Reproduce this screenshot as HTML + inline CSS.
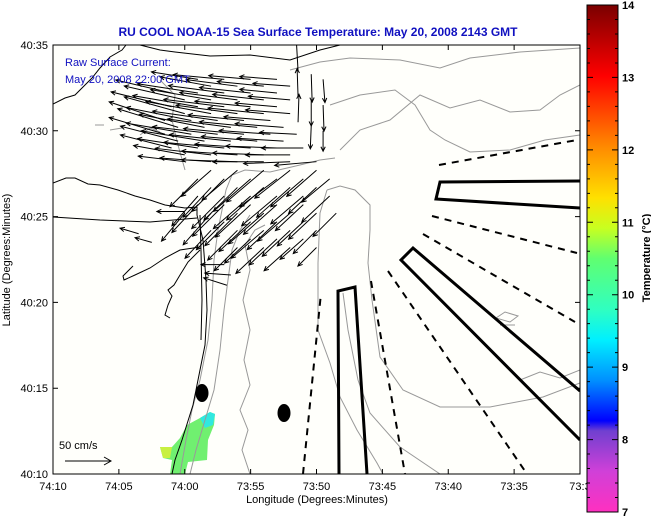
<!DOCTYPE html>
<html><head><meta charset="utf-8">
<style>
html,body{margin:0;padding:0;background:#fff;}
svg{display:block;font-family:"Liberation Sans",sans-serif;}
</style></head>
<body>
<svg id="chart" width="651" height="519" viewBox="0 0 651 519" xmlns="http://www.w3.org/2000/svg">
<defs>
<linearGradient id="cbar" x1="0" y1="0" x2="0" y2="1">
<stop offset="0" stop-color="#7a0000"/>
<stop offset="0.14" stop-color="#ff0000"/>
<stop offset="0.28" stop-color="#ff8a00"/>
<stop offset="0.38" stop-color="#ffe000"/>
<stop offset="0.44" stop-color="#c8ff20"/>
<stop offset="0.50" stop-color="#60ff70"/>
<stop offset="0.60" stop-color="#30ffc0"/>
<stop offset="0.66" stop-color="#00f0ff"/>
<stop offset="0.74" stop-color="#0090ff"/>
<stop offset="0.82" stop-color="#0000ff"/>
<stop offset="0.84" stop-color="#7040d0"/>
<stop offset="0.92" stop-color="#d040d8"/>
<stop offset="1" stop-color="#ff30c0"/>
</linearGradient>
<clipPath id="plotclip"><rect x="53" y="45" width="527" height="429"/></clipPath>
</defs>
<rect x="0" y="0" width="651" height="519" fill="#fff"/>
<text x="318" y="36" text-anchor="middle" font-size="12" font-weight="bold" fill="#1010c0">RU COOL  NOAA-15  Sea Surface Temperature:  May 20, 2008 2143 GMT</text>

<g clip-path="url(#plotclip)">
<rect x="53" y="45" width="527" height="429" fill="#fffffb"/>
<path d="M160,447 L172,447 L180,438 L187,425 L200,418 L210,412 L215,414 L214,425 L208,440 L207,460 L188,462 L185,474 L170,474 L172,460 L163,458 Z" fill="#70f070"/>
<path d="M200,418 L210,412 L215,414 L213,425 L205,428 Z" fill="#30e8e0"/>
<path d="M160,447 L172,447 L170,458 L163,458 Z" fill="#c8f040"/>
<g fill="none" stroke="#999" stroke-width="1">
<path d="M180,474 L186,440 L192,410 L200,380 L208,340 L212,300 L214,260 L218,230 L222,210 L226,190 L232,175 L245,170 L270,172 L300,165 L320,160 L335,158"/>
<path d="M190,474 L196,450 L205,420 L214,390 L220,350 L224,310 L228,280 L232,250 L240,230 L250,215"/>
<path d="M250,474 L242,450 L248,430 L240,410 L250,385 L244,360 L250,330 L243,300 L250,270 L245,245 L255,230 L265,225"/>
<path d="M327,190 L320,213 L318,263 L318,330 L330,363 L340,397 L357,430 L377,463 L383,474"/>
<path d="M327,190 L340,186 L355,190 L370,205 L370,230 L368,263 L372,300 L380,357 L403,390 L440,407 L490,407 L543,397 L580,383"/>
<path d="M343,293 L348,330 L358,380 L370,413 L400,447 L440,474"/>
<path d="M290,70 L320,62 L350,58 L400,60 L440,68 L470,58 L520,52 L580,48"/>
<path d="M330,105 L360,95 L395,90 L415,105 L430,130 L445,140 L470,152 L510,150 L545,140 L580,135"/>
<path d="M340,150 L360,130 L390,120 L420,95 L450,108 L480,100 L510,112 L540,110 L560,95 L580,85"/>
<path d="M160,80 L175,95 L172,120 L178,145 L185,170"/>
<path d="M140,135 L150,128 L160,132 M110,130 L122,128 M95,125 L104,125"/>
<path d="M496,318 L505,312 L518,316 L510,322 Z M500,325 L515,325"/>
<path d="M520,380 L540,372 L560,378 L580,370"/>
</g>
<g fill="none" stroke="#000" stroke-width="1">
<path d="M53,104 L65,98 L75,95 L82,88 L92,78 L100,68 L110,57 L122,50 L126,45"/>
<path d="M140,45 L160,50 L175,52 L210,56 L250,55 L290,60 L320,50 L340,45"/>
<path d="M53,183 L66,178 L75,178 L88,184 L100,185 L118,190 L135,196 L150,200 L165,205 L185,208 L197,207"/>
<path d="M53,217 L100,220 L150,222 L197,218"/>
<path d="M197,207 L197,215 L203,240 L206,280 L207,310 L205,345 L198,380 L193,405 L182,440 L175,460 L172,474"/>
<path d="M200,215 L201,250 L202,300 L201,340"/>
<path d="M200,247 L180,250 L165,258 L150,268 L135,275 L124,280 L123,276 L133,266"/>
<path d="M200,250 L188,262 L180,275 L174,285 L168,290 L172,296 L168,305 L165,315 L170,318"/>
</g>
<g fill="none" stroke="#000" stroke-width="3">
<path d="M580,181 L440,182 L436,199 L580,208"/>
<path d="M580,391 L413,248 L401,260 L580,440"/>
<path d="M339,474 L338,291 L355,287 L367,474"/>
</g>
<g fill="none" stroke="#000" stroke-width="2" stroke-dasharray="7,6">
<path d="M303,474 L321,293"/>
<path d="M371,281 L405,474"/>
<path d="M388,271 L527,474"/>
<path d="M423,234 L575,322"/>
<path d="M432,216 L577,253"/>
<path d="M439,165 L577,140"/>
</g>
<ellipse cx="202" cy="393" rx="6.5" ry="9" fill="#000"/>
<ellipse cx="284" cy="413" rx="6.5" ry="9" fill="#000"/>
<g id="arrows"></g>
</g>
<rect x="53" y="45" width="527" height="429" fill="none" stroke="#000" stroke-width="1"/>
<g id="axes"></g>
<text x="65" y="66" font-size="11" fill="#1010c0">Raw Surface Current:</text>
<text x="65" y="83" font-size="11" fill="#1010c0">May 20, 2008 22:00 GMT</text>
<g stroke="#000" fill="none">
<path d="M65,461 L111,461 M104,457 L111,461 L104,465"/>
</g>
<text x="59" y="449" font-size="11">50 cm/s</text>
<text x="317" y="503" text-anchor="middle" font-size="11">Longitude (Degrees:Minutes)</text>
<text transform="translate(10,260) rotate(-90)" text-anchor="middle" font-size="11">Latitude (Degrees:Minutes)</text>
<rect x="587" y="5" width="31" height="507" fill="url(#cbar)" stroke="#000" stroke-width="1"/>
<g id="cbticks"></g>
<text transform="translate(650,258) rotate(-90)" text-anchor="middle" font-size="11" font-weight="bold">Temperature (°C)</text>
</svg>
<script>
const xTickLabels=["74:10","74:05","74:00","73:55","73:50","73:45","73:40","73:35","73:3"];
const yTickLabels=["40:10","40:15","40:20","40:25","40:30","40:35"];
const cbTickValues=[7,8,9,10,11,12,13,14];
// vector field: lon/lat in minutes east of 74:10 / north of 40:10, u/v in cm/s
const arrowLat=[23,23,23,23, 22.2,22.2,22.2,22.2,22.2, 21.4,21.4,21.4,21.4,21.4, 20.6,20.6,20.6,20.6,20.6, 19.8,19.8,19.8,19.8,19.8,19.8, 19,19,19,19,19,19, 18.2,18.2,18.2,18.2,18.2,18.2,
 22.6,22.6,22.6,22.6, 21.8,21.8,21.8,21.8,21.8, 21,21,21,21,21, 20.2,20.2,20.2,20.2,20.2, 19.4,19.4,19.4,19.4,19.4, 18.6,18.6,18.6,18.6,18.6,
 17.2,17.2,17.2,17.2,17.2,17.2, 16.2,16.2,16.2,16.2,16.2,16.2, 15.2,15.2,15.2,15.2,15.2,15.2,15.2, 14.2,14.2,14.2,14.2,14.2, 13.2,13.2,13.2,13.2,
 17.7,17.7,17.7,17.7,17.7, 16.7,16.7,16.7,16.7,16.7, 15.7,15.7,15.7,15.7,15.7, 14.7,14.7,14.7,14.7, 13.7,13.7,13.7,
 14,13.5,15.3, 12.2,11.6,11.0,
 23.5,22,20.5, 23.3,21.8,20.3, 23,21.5,20];
const arrowLon=[11,13,15,17, 9,11,13,15,17, 9,11,13,15,17, 8.5,10.5,12.5,14.5,16.5, 8.5,10.5,12.5,14.5,16.5,18.5, 9,11,13,15,17,19, 10,12,14,16,18,20,
 12,14,16,18, 10,12,14,16,18, 10,12,14,16,18, 9.5,11.5,13.5,15.5,17.5, 9.5,11.5,13.5,15.5,17.5, 10,12,14,16,18,
 11,13,15,17,19,21, 11,13,15,17,19,21, 10,12,14,16,18,20,21.5, 12,14,16,18,20, 14,16,18,20,
 12,14,16,18,20, 12,14,16,18,20, 11,13,15,17,19, 13,15,17,19, 15,17,19,
 6.5,7.5,10, 13,13.5,13.2,
 18.6,18.6,18.6, 19.6,19.6,19.6, 20.5,20.5,20.5];
const arrowU=[-50,-55,-45,-40, -60,-65,-60,-55,-40, -65,-70,-65,-60,-45, -60,-70,-70,-60,-50, -60,-70,-70,-65,-55,-40, -55,-65,-65,-60,-55,-45, -50,-55,-60,-55,-50,-45,
 -55,-55,-50,-40, -65,-65,-62,-55,-45, -65,-70,-66,-60,-48, -65,-70,-68,-62,-52, -62,-68,-66,-60,-50, -55,-60,-60,-55,-48,
 -30,-35,-40,-40,-35,-30, -28,-35,-40,-38,-35,-30, -25,-30,-35,-38,-35,-30,-25, -28,-32,-35,-30,-25, -25,-30,-28,-20,
 -32,-38,-40,-38,-32, -30,-36,-40,-36,-30, -28,-34,-38,-36,-30, -30,-34,-32,-28, -28,-30,-25,
 -20,-18,-30, -25,-28,-25,
 -2,-1,1, 1,0,-1, 2,1,0];
const arrowV=[8,5,4,3, 14,10,8,6,4, 16,12,8,6,4, 20,14,10,6,4, 18,12,8,6,4,2, 14,10,6,4,2,0, 6,4,2,0,-2,-4,
 10,7,5,3, 15,11,8,6,4, 18,13,9,6,4, 20,14,9,6,4, 16,11,7,5,3, 10,7,4,2,0,
 -30,-35,-35,-30,-30,-25, -32,-35,-35,-32,-30,-28, -30,-34,-35,-33,-30,-28,-25, -30,-32,-30,-28,-25, -25,-28,-25,-20,
 -28,-32,-34,-30,-28, -32,-35,-35,-32,-28, -30,-34,-35,-32,-28, -30,-32,-30,-26, -26,-28,-22,
 6,5,0, 0,2,8,
 35,30,30, -30,-28,-25, -25,-28,-22];
const X0=53,X1=580,Y0=474,Y1=45;
function xScale(lonMin){return X0+lonMin*(X1-X0)/40;}
function yScale(latMin){return Y0-latMin*(Y0-Y1)/25;}
function cbScale(t){return 512-(t-7)*(507/7);}
const NS="http://www.w3.org/2000/svg";
const vs=0.93;
const ag=document.getElementById('arrows');
for(let i=0;i<arrowLat.length;i++){
 const x=xScale(arrowLon[i]),y=yScale(arrowLat[i]);
 const dx=arrowU[i]*vs,dy=-arrowV[i]*vs;
 const x2=x+dx,y2=y+dy,L=Math.hypot(dx,dy)||1,ux=dx/L,uy=dy/L,h=5;
 const c=Math.cos(0.45),s=Math.sin(0.45);
 const hx1=x2-h*(ux*c-uy*s),hy1=y2-h*(uy*c+ux*s);
 const hx2=x2-h*(ux*c+uy*s),hy2=y2-h*(uy*c-ux*s);
 const p=document.createElementNS(NS,'path');
 p.setAttribute('d',`M${x},${y}L${x2},${y2}M${hx1},${hy1}L${x2},${y2}L${hx2},${hy2}`);
 p.setAttribute('stroke','#000');p.setAttribute('fill','none');p.setAttribute('stroke-width','1');
 
 
 ag.appendChild(p);
}
const ax=document.getElementById('axes');
xTickLabels.forEach((lab,i)=>{
 const x=xScale(i*5);
 const t=document.createElementNS(NS,'path');
 t.setAttribute('d',`M${x},474v-5M${x},45v5`);t.setAttribute('stroke','#000');
 
 
 ax.appendChild(t);
 const tx=document.createElementNS(NS,'text');
 tx.setAttribute('x',x);tx.setAttribute('y',490);tx.setAttribute('text-anchor','middle');tx.setAttribute('font-size','11');
 tx.textContent=lab;
 
 
 ax.appendChild(tx);
});
yTickLabels.forEach((lab,i)=>{
 const y=yScale(i*5);
 const t=document.createElementNS(NS,'path');
 t.setAttribute('d',`M53,${y}h5M580,${y}h-5`);t.setAttribute('stroke','#000');
 
 
 ax.appendChild(t);
 const tx=document.createElementNS(NS,'text');
 tx.setAttribute('x',48);tx.setAttribute('y',y+4);tx.setAttribute('text-anchor','end');tx.setAttribute('font-size','11');
 tx.textContent=lab;
 
 
 ax.appendChild(tx);
});
const cb=document.getElementById('cbticks');
for(let t=7;t<=14.001;t+=0.2){
 const y=cbScale(t);const major=Math.abs(t-Math.round(t))<0.01;
 const p=document.createElementNS(NS,'path');
 const w=major?6:3;
 p.setAttribute('d',`M587,${y}h${w}M618,${y}h-${w}`);p.setAttribute('stroke','#000');
 
 
 cb.appendChild(p);
}
cbTickValues.forEach(v=>{
 const tx=document.createElementNS(NS,'text');
 tx.setAttribute('x',622);tx.setAttribute('y',cbScale(v)+4);tx.setAttribute('font-size','11');tx.setAttribute('font-weight','bold');
 tx.textContent=String(v);
 
 
 cb.appendChild(tx);
});
</script>
</body></html>
